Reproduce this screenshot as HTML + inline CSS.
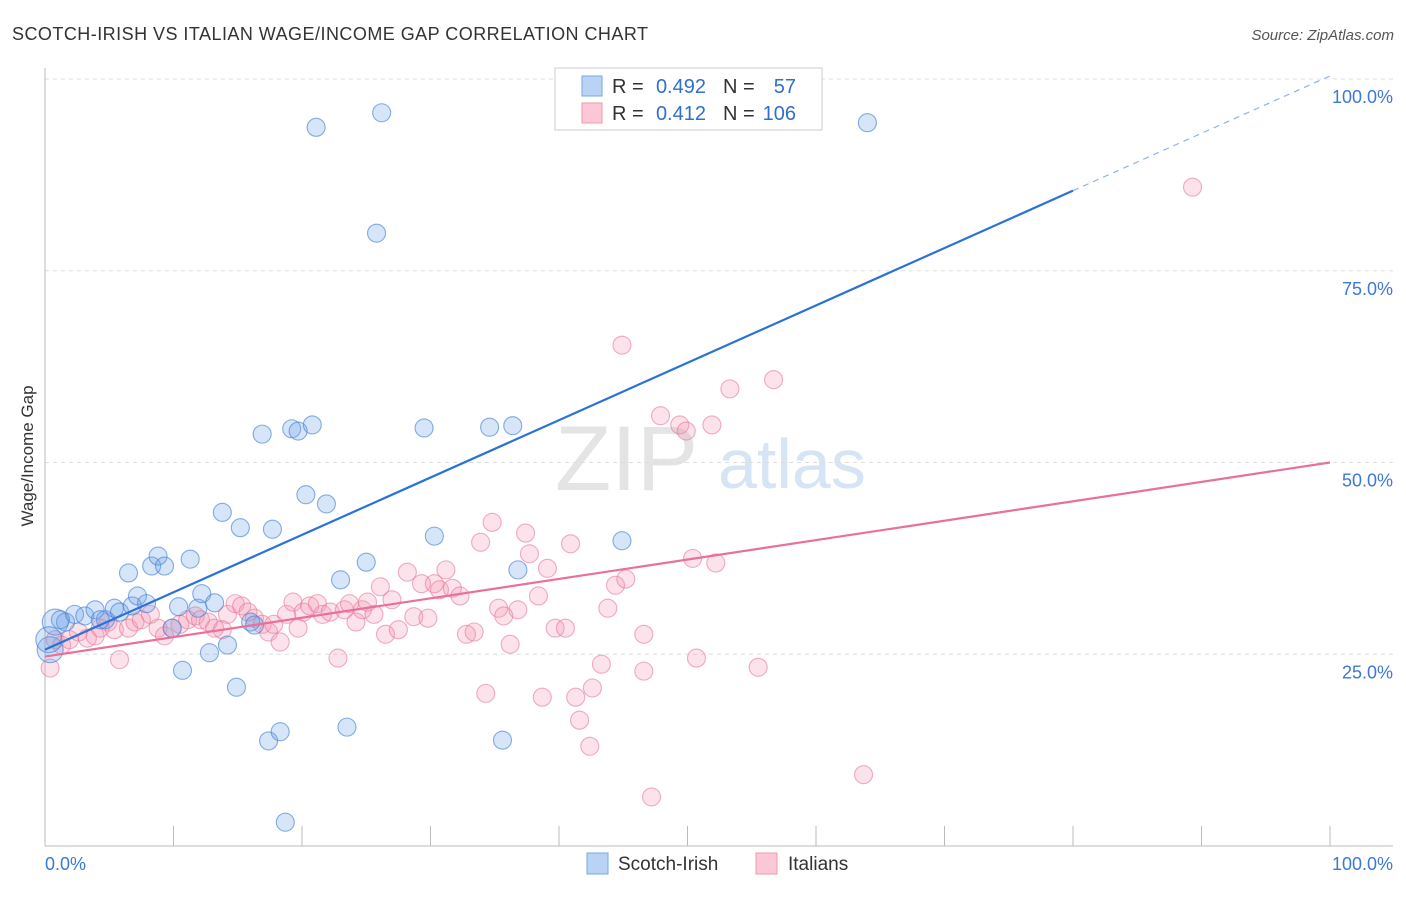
<!DOCTYPE html>
<html><head><meta charset="utf-8"><style>
body{margin:0;background:#fff;font-family:"Liberation Sans",sans-serif;}
svg text{font-family:"Liberation Sans",sans-serif;}
</style></head><body>
<svg id="chart" width="1406" height="892">
<text x="12" y="40" font-size="18" fill="#333" textLength="636">SCOTCH-IRISH VS ITALIAN WAGE/INCOME GAP CORRELATION CHART</text>
<text x="1394" y="40" font-size="15" fill="#555" font-style="italic" text-anchor="end">Source: ZipAtlas.com</text>
<text x="33" y="456" font-size="17" fill="#333" text-anchor="middle" transform="rotate(-90 33 456)">Wage/Income Gap</text>
<g><text x="555" y="490" font-size="92" fill="#e4e4e4" font-family="Liberation Serif">ZIP</text><text x="718" y="488" font-size="70" fill="#d6e4f5">atlas</text></g>
<g id="grid"></g><g id="pts"></g><g id="lines"></g>
<g>
<rect x="555" y="68" width="267" height="62" fill="#fff" stroke="#ccc"/>
<rect x="582" y="76" width="20" height="20" fill="#b9d3f5" stroke="#7aa6e6"/>
<rect x="582" y="103" width="20" height="20" fill="#fcc8d7" stroke="#ec9ab3"/>
<text x="612" y="93" font-size="20" fill="#333">R =</text>
<text x="706" y="93" font-size="20" fill="#2f6fd0" text-anchor="end">0.492</text>
<text x="723" y="93" font-size="20" fill="#333">N =</text>
<text x="796" y="93" font-size="20" fill="#2f6fd0" text-anchor="end">57</text>
<text x="612" y="120" font-size="20" fill="#333">R =</text>
<text x="706" y="120" font-size="20" fill="#2f6fd0" text-anchor="end">0.412</text>
<text x="723" y="120" font-size="20" fill="#333">N =</text>
<text x="796" y="120" font-size="20" fill="#2f6fd0" text-anchor="end">106</text>
</g>
<g>
<rect x="587" y="853" width="21" height="21" fill="#b9d3f5" stroke="#7aa6e6"/>
<text x="618" y="870" font-size="19" fill="#333">Scotch-Irish</text>
<rect x="756" y="853" width="21" height="21" fill="#fcc8d7" stroke="#ec9ab3"/>
<text x="788" y="870" font-size="19" fill="#333">Italians</text>
</g>
</svg>
<script>
const blueX=[0.4,0.8,1.6,2.3,3.1,3.9,4.7,5.4,5.8,6.5,6.8,7.2,7.9,8.3,8.8,9.3,9.9,10.4,10.7,11.3,11.9,12.2,12.8,13.2,13.8,14.2,14.9,15.2,16.0,16.3,16.9,17.4,17.7,18.3,18.7,19.2,19.7,20.3,20.8,21.1,21.9,23.0,23.5,25.0,25.8,26.2,29.5,30.3,34.6,35.6,36.4,36.8,44.9,64.0,1.2,4.3,0.3];
const blueY=[25.6,29.2,29.2,30.2,30.0,30.8,29.5,31.0,30.5,35.6,31.3,32.6,31.6,36.5,37.8,36.5,28.4,31.2,22.9,37.4,31.0,32.9,25.2,31.7,43.5,26.2,20.7,41.5,29.2,28.8,53.7,13.7,41.3,14.9,3.1,54.4,54.1,45.8,54.9,93.7,44.6,34.7,15.5,37.0,79.9,95.6,54.5,40.4,54.6,13.8,54.8,36.0,39.8,94.3,29.5,29.5,26.9];
const pinkX=[0.4,0.8,1.3,1.9,2.6,3.3,3.9,4.3,4.9,5.4,5.8,6.5,7.0,7.5,8.2,8.8,9.3,9.9,10.5,11.1,11.7,12.1,12.7,13.2,13.8,14.2,14.8,15.3,15.8,16.3,16.9,17.4,17.8,18.3,18.8,19.3,19.7,20.1,20.6,21.2,21.6,22.2,22.8,23.3,23.7,24.2,24.7,25.1,25.6,26.1,26.5,27.0,27.5,28.2,28.7,29.3,29.8,30.3,30.7,31.2,31.7,32.3,32.8,33.4,33.9,34.3,34.8,35.3,35.7,36.2,36.8,37.4,37.7,38.4,38.7,39.1,39.7,40.5,40.9,41.3,41.6,42.4,42.6,43.3,43.8,44.4,44.9,45.2,46.6,46.6,47.2,47.9,49.4,49.9,50.4,50.7,51.9,52.2,53.3,55.5,56.7,63.7,89.3];
const pinkY=[23.2,26.9,26.2,26.9,27.9,27.1,27.4,28.4,29.2,28.2,24.3,28.4,29.2,29.5,30.2,28.4,27.4,28.4,28.9,29.5,30.0,29.5,29.2,28.4,28.2,30.2,31.6,31.3,30.5,29.7,28.9,27.9,28.9,26.6,30.2,31.8,28.4,30.5,31.3,31.6,30.2,30.5,24.5,30.8,31.6,29.2,30.8,31.8,30.2,33.8,27.6,32.1,28.2,35.7,29.9,34.2,29.7,34.2,33.4,36.0,33.6,32.6,27.6,27.9,39.6,19.9,42.2,31.0,30.0,26.3,30.8,40.8,38.1,32.6,19.4,36.2,28.4,28.4,39.4,19.4,16.4,13.0,20.6,23.7,31.0,34.0,65.3,34.8,27.6,22.8,6.4,56.1,54.9,54.1,37.5,24.5,54.9,36.9,59.6,23.3,60.8,9.3,85.9];
const blueTrend=[25.6,0.748];
const pinkTrend=[24.7,0.253];
const yTicks=[25,50,75,100];
const yTickLabels=["25.0%","50.0%","75.0%","100.0%"];
const xTicks=[0,10,20,30,40,50,60,70,80,90,100];
const NS="http://www.w3.org/2000/svg";
const sx=v=>45+v*12.85, sy=v=>846-v*7.67;
function mk(t,a,p){const e=document.createElementNS(NS,t);for(const k in a)e.setAttribute(k,a[k]);p.appendChild(e);return e;}
const grid=document.getElementById('grid');
yTicks.forEach((t,i)=>{
 const l=mk('line',{x1:45,x2:1393,y1:sy(t),y2:sy(t),stroke:'#ddd','stroke-dasharray':'4,4'},grid);
 
 
 const tx=mk('text',{x:1393,y:sy(t)+24,'font-size':18,fill:'#3c78d8','text-anchor':'end'},grid);tx.textContent=yTickLabels[i];
 
 
});
const ax=mk('line',{x1:45,x2:1393,y1:846,y2:846,stroke:'#bbb'},grid);


const ay=mk('line',{x1:45,x2:45,y1:68,y2:846,stroke:'#bbb'},grid);


xTicks.forEach(t=>{const l=mk('line',{x1:sx(t),x2:sx(t),y1:826,y2:846,stroke:'#bbb'},grid);
 
 });
let t0=mk('text',{x:45,y:870,'font-size':18,fill:'#3c78d8'},grid);t0.textContent='0.0%';


let t1=mk('text',{x:1393,y:870,'font-size':18,fill:'#3c78d8','text-anchor':'end'},grid);t1.textContent='100.0%';


const pts=document.getElementById('pts');
pinkX.forEach((x,i)=>{const c=mk('circle',{cx:sx(x),cy:sy(pinkY[i]),r:9,fill:'rgba(244,150,180,0.28)',stroke:'rgba(230,120,155,0.6)','stroke-width':1.1},pts);
 
 });
blueX.forEach((x,i)=>{const c=mk('circle',{cx:sx(x),cy:sy(blueY[i]),r:(i==0||i==1||i==56)?13:9,fill:'rgba(110,160,230,0.28)',stroke:'rgba(70,130,215,0.65)','stroke-width':1.1},pts);
 
 });
const lines=document.getElementById('lines');
const bl=mk('line',{x1:sx(0),y1:sy(blueTrend[0]),x2:sx(80),y2:sy(blueTrend[0]+80*blueTrend[1]),stroke:'#2a72d6','stroke-width':2.2},lines);


const bd=mk('line',{x1:sx(80),y1:sy(blueTrend[0]+80*blueTrend[1]),x2:sx(100),y2:sy(blueTrend[0]+100*blueTrend[1]),stroke:'#8fb3e6','stroke-width':1.2,'stroke-dasharray':'6,5'},lines);


const pl=mk('line',{x1:sx(0),y1:sy(pinkTrend[0]),x2:sx(100),y2:sy(pinkTrend[0]+100*pinkTrend[1]),stroke:'#e8709a','stroke-width':2.2},lines);


</script>
</body></html>
